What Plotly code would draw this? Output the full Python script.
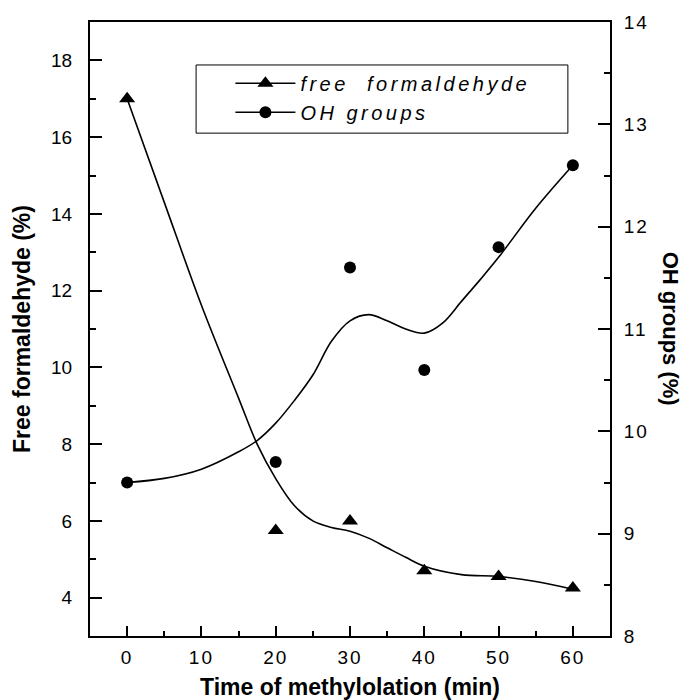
import plotly.graph_objects as go

# ---- data ----
time_min = [0, 20, 30, 40, 50, 60]
free_formaldehyde = [17.0, 5.75, 6.0, 4.7, 4.55, 4.25]
oh_groups = [9.5, 9.7, 11.6, 10.6, 11.8, 12.6]

# smoothed fit curves as drawn in the reference
ff_fit_time = [0, 5, 10, 15, 17.5, 20, 22.5, 25, 27.5, 30, 32.5, 35, 37.5, 40, 45, 50, 55, 60]
ff_fit = [17.0, 14.3, 11.62, 9.2, 8.0, 7.1, 6.4, 6.0, 5.83, 5.73, 5.55, 5.3, 5.05, 4.82, 4.6, 4.55, 4.42, 4.22]
oh_fit_time = [0, 5, 10, 15, 17.5, 20, 22.5, 25, 27.5, 30, 32.5, 35, 37.5, 40, 42.5, 45, 47.5, 50, 55, 60]
oh_fit = [9.5, 9.54, 9.63, 9.8, 9.91, 10.08, 10.3, 10.55, 10.88, 11.08, 11.14, 11.08, 11.0, 10.96, 11.06,
          11.27, 11.48, 11.7, 12.18, 12.6]

x_ticks = [0, 10, 20, 30, 40, 50, 60]
y_left_ticks = [4, 6, 8, 10, 12, 14, 16, 18]
y_right_ticks = [8, 9, 10, 11, 12, 13, 14]

FONT = "Liberation Sans, Arial, sans-serif"
SP = '<span style="letter-spacing:{}px">{}</span>'

fig = go.Figure()

fig.add_trace(go.Scatter(x=ff_fit_time, y=ff_fit, mode="lines",
                         line=dict(color="black", width=1.6, shape="spline", smoothing=1),
                         showlegend=False, hoverinfo="skip"))
fig.add_trace(go.Scatter(x=time_min, y=free_formaldehyde, mode="markers",
                         marker=dict(symbol="triangle-up", size=14, color="black"), showlegend=False))
fig.add_trace(go.Scatter(x=oh_fit_time, y=oh_fit, mode="lines", yaxis="y2",
                         line=dict(color="black", width=1.6, shape="spline", smoothing=1),
                         showlegend=False, hoverinfo="skip"))
fig.add_trace(go.Scatter(x=time_min, y=oh_groups, mode="markers", yaxis="y2",
                         marker=dict(symbol="circle", size=12, color="black"), showlegend=False))

# legend entries
fig.add_trace(go.Scatter(x=[None], y=[None], mode="lines+markers",
                         name=SP.format(3.5, "free&nbsp; formaldehyde"),
                         line=dict(color="black", width=1.4), marker=dict(symbol="triangle-up", size=14, color="black"),
                         legendgroup="a"))
fig.add_trace(go.Scatter(x=[None], y=[None], mode="lines+markers", name=SP.format(3.5, "OH groups"),
                         line=dict(color="black", width=1.4), marker=dict(symbol="circle", size=12, color="black"),
                         legendgroup="b"))

axis_common = dict(showline=True, linecolor="black", linewidth=2, ticks="inside", tickcolor="black",
                   tickwidth=2, showgrid=False, zeroline=False, automargin=False,
                   tickfont=dict(family=FONT, size=19, color="black"))

fig.update_layout(
    width=686, height=700,
    margin=dict(l=90, r=76, t=22, b=64),
    paper_bgcolor="white", plot_bgcolor="white",
    font=dict(family=FONT, color="black"),
    xaxis=dict(**axis_common, range=[-5, 65], tickvals=x_ticks, ticktext=[SP.format(2, v) for v in x_ticks],
               ticklen=10, mirror=True, ticklabelstandoff=3,
               minor=dict(dtick=5, tick0=0, ticks="inside", ticklen=5, tickwidth=2, tickcolor="black"),
               title=dict(text="<b>Time of methylolation (min)</b>", font=dict(family=FONT, size=23), standoff=15)),
    yaxis=dict(**axis_common, range=[3, 19], tickvals=y_left_ticks, ticklen=12, ticklabelstandoff=12,
               minor=dict(dtick=1, tick0=0, ticks="inside", ticklen=6, tickwidth=2, tickcolor="black"),
               title=dict(text="<b>Free formaldehyde (%)</b>", font=dict(family=FONT, size=23), standoff=14)),
    yaxis2=dict(**axis_common, range=[8, 14], overlaying="y", side="right", tickvals=y_right_ticks,
                ticktext=[SP.format(2, v) for v in y_right_ticks], ticklen=12, ticklabelstandoff=8,
                minor=dict(dtick=0.5, tick0=0, ticks="inside", ticklen=6, tickwidth=2, tickcolor="black")),
    legend=dict(x=0.27, y=0.932, xanchor="left", yanchor="top", bgcolor="rgba(0,0,0,0)", borderwidth=0,
                font=dict(family=FONT, size=20, style="italic"), tracegroupgap=0, itemwidth=60),
    showlegend=True,
    shapes=[dict(type="rect", xref="paper", yref="paper", x0=0.204, x1=0.919, y0=0.819, y1=0.930,
                 line=dict(color="black", width=1))],
    annotations=[dict(text="<b>OH groups (%)</b>", xref="paper", yref="paper", x=1.118, y=0.5,
                      xanchor="center", textangle=90, showarrow=False, font=dict(family=FONT, size=22))],
)

fig.write_html("out.html")
